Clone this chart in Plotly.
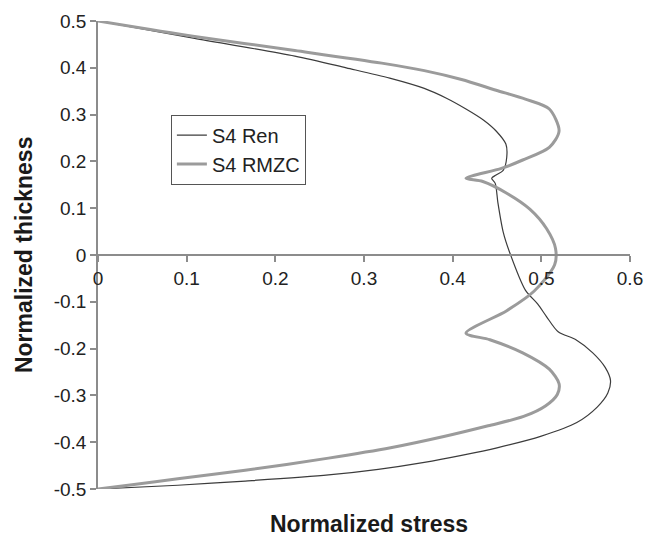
import plotly.graph_objects as go

# S4 Ren (thin dark line)
ren_x = [0, 0.109, 0.222, 0.280, 0.329, 0.368, 0.393, 0.415, 0.435, 0.449, 0.460, 0.461,
         0.457, 0.449, 0.444, 0.448, 0.451, 0.457, 0.464, 0.482, 0.496, 0.506, 0.519,
         0.539, 0.558, 0.572, 0.578, 0.575, 0.563, 0.540, 0.500, 0.450, 0.410, 0.368,
         0.316, 0.260, 0.166, 0.090, 0]
ren_y = [0.5, 0.463, 0.425, 0.400, 0.378, 0.356, 0.335, 0.312, 0.288, 0.265, 0.237, 0.209,
         0.181, 0.171, 0.164, 0.153, 0.112, 0.049, 0.007, -0.075, -0.105, -0.132, -0.164,
         -0.181, -0.209, -0.240, -0.268, -0.295, -0.325, -0.358, -0.387, -0.412, -0.428, -0.443,
         -0.458, -0.470, -0.483, -0.492, -0.5]

# S4 RMZC (thick grey line)
rmzc_x = [0, 0.109, 0.222, 0.320, 0.368, 0.410, 0.449, 0.482, 0.509, 0.520, 0.509, 0.479,
          0.455, 0.415, 0.434, 0.461, 0.487, 0.506, 0.516, 0.515, 0.492, 0.461, 0.415,
          0.442, 0.479, 0.509, 0.520, 0.518, 0.505, 0.480, 0.440, 0.390, 0.330, 0.260,
          0.166, 0.090, 0.034, 0]
rmzc_y = [0.5, 0.467, 0.437, 0.410, 0.394, 0.375, 0.352, 0.333, 0.312, 0.265, 0.230, 0.203,
          0.185, 0.164, 0.157, 0.132, 0.098, 0.056, 0.014, -0.021, -0.077, -0.119, -0.167,
          -0.181, -0.209, -0.244, -0.275, -0.298, -0.322, -0.345, -0.365, -0.388, -0.412, -0.434,
          -0.460, -0.478, -0.492, -0.5]

x_ticks = [0, 0.1, 0.2, 0.3, 0.4, 0.5, 0.6]
x_ticktext = ["0", "0.1", "0.2", "0.3", "0.4", "0.5", "0.6"]
y_ticks = [0.5, 0.4, 0.3, 0.2, 0.1, 0, -0.1, -0.2, -0.3, -0.4, -0.5]
y_ticktext = ["0.5", "0.4", "0.3", "0.2", "0.1", "0", "-0.1", "-0.2", "-0.3", "-0.4", "-0.5"]

FONT = "Liberation Sans, Arial, sans-serif"
AXIS_COLOR = "#8c8c8c"

fig = go.Figure()
fig.add_trace(go.Scatter(x=ren_x, y=ren_y, mode="lines", name="S4 Ren",
                         line=dict(color="#3c3c3c", width=1.2, shape="spline", smoothing=0.8)))
fig.add_trace(go.Scatter(x=rmzc_x, y=rmzc_y, mode="lines", name="S4 RMZC",
                         line=dict(color="#9b9b9b", width=3, shape="spline", smoothing=0.8)))

fig.update_layout(
    width=670, height=546,
    margin=dict(l=98, r=40, t=11, b=57),
    paper_bgcolor="white", plot_bgcolor="white",
    font=dict(family=FONT, color="#222222"),
    showlegend=True,
    legend=dict(x=0.137, y=0.80, xanchor="left", yanchor="top",
                bordercolor="#555555", borderwidth=1, bgcolor="white",
                font=dict(size=20, family=FONT, color="#222222"),
                tracegroupgap=0),
    xaxis=dict(range=[0, 0.6], anchor="free", position=0.5,
               showline=True, linecolor=AXIS_COLOR, linewidth=1.5,
               ticks="outside", ticklen=6, tickcolor=AXIS_COLOR, tickwidth=1.5,
               tickvals=x_ticks, ticktext=x_ticktext,
               tickfont=dict(size=19, family=FONT, color="#222222"),
               showgrid=False, zeroline=False),
    yaxis=dict(range=[-0.5, 0.5],
               showline=True, linecolor=AXIS_COLOR, linewidth=1.5,
               ticks="outside", ticklen=6, tickcolor=AXIS_COLOR, tickwidth=1.5,
               tickvals=y_ticks, ticktext=y_ticktext,
               tickfont=dict(size=19, family=FONT, color="#222222"),
               showgrid=False, zeroline=False),
    annotations=[
        dict(text="<b>Normalized stress</b>", xref="paper", yref="paper",
             x=0.51, y=-0.075, xanchor="center", yanchor="middle", showarrow=False,
             font=dict(size=23, family=FONT, color="#1a1a1a")),
        dict(text="<b>Normalized thickness</b>", xref="paper", yref="paper",
             x=-0.139, y=0.5, xanchor="center", yanchor="middle", showarrow=False,
             textangle=-90, font=dict(size=23, family=FONT, color="#1a1a1a")),
    ],
)

fig.write_html("out.html")
